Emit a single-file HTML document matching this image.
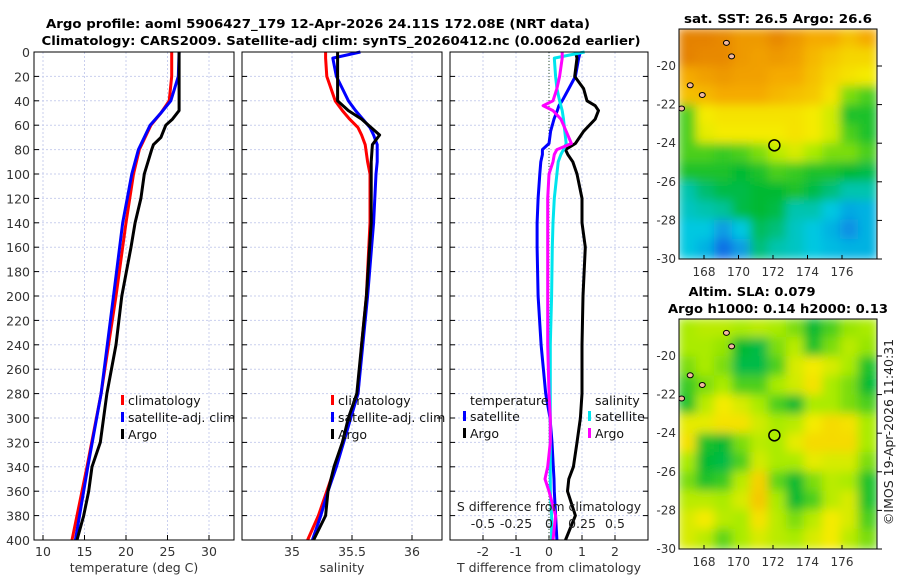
<!DOCTYPE html>
<html><head><meta charset="utf-8"><style>
body{margin:0;background:#fff;}
svg{display:block;font-family:"DejaVu Sans","Liberation Sans",sans-serif;}
</style></head><body>
<svg id="c" width="900" height="580" viewBox="0 0 900 580">
<defs>
<filter id="bl" x="-5%" y="-5%" width="110%" height="110%"><feGaussianBlur stdDeviation="5"/></filter>
<clipPath id="cm1"><rect x="679" y="29" width="198" height="230"/></clipPath>
<clipPath id="cm2"><rect x="679" y="319" width="198" height="230"/></clipPath>
</defs>
<text x="318" y="28" text-anchor="middle" font-size="12.5" font-weight="bold" textLength="544" lengthAdjust="spacingAndGlyphs">Argo profile: aoml 5906427_179 12-Apr-2026 24.11S 172.08E (NRT data)</text>
<text x="341" y="45" text-anchor="middle" font-size="12.5" font-weight="bold" textLength="599" lengthAdjust="spacingAndGlyphs">Climatology: CARS2009. Satellite-adj clim: synTS_20260412.nc (0.0062d earlier)</text>
<text x="778" y="23" text-anchor="middle" font-size="12.5" font-weight="bold" textLength="188" lengthAdjust="spacingAndGlyphs">sat. SST: 26.5 Argo: 26.6</text>
<text x="752" y="296" text-anchor="middle" font-size="12.5" font-weight="bold" textLength="127" lengthAdjust="spacingAndGlyphs">Altim. SLA: 0.079</text>
<text x="778" y="313" text-anchor="middle" font-size="12.5" font-weight="bold" textLength="220" lengthAdjust="spacingAndGlyphs">Argo h1000: 0.14 h2000: 0.13</text>
<text transform="translate(893,432) rotate(-90)" text-anchor="middle" font-size="12.5" fill="#222">©IMOS 19-Apr-2026 11:40:31</text>
<g id="plots"></g>
</svg>
<script>
// ---- data ----
const tDepth=[0,20,40,50,60,80,100,140,200,280,340,400];
const tClim=[25.5,25.5,25.2,24.2,23.0,21.6,20.9,20.0,18.8,17.0,15.3,13.5];
const tSat=[26.4,26.3,25.4,24.2,22.9,21.5,20.7,19.6,18.5,17.0,15.4,13.9];
const argoDepth=[0,20,40,48,55,60,70,76,80,100,120,140,160,200,240,280,320,340,360,380,400];
const tArgo=[26.4,26.4,26.4,26.4,25.6,24.8,24.2,23.3,23.1,22.2,21.8,21.1,20.6,19.5,18.8,17.7,16.9,15.9,15.5,14.9,14.1];
const sDepth=[0,5,20,40,48,55,62,68,76,90,100,140,200,240,280,300,320,340,360,380,400];
const sClim=[35.28,35.28,35.29,35.36,35.42,35.48,35.55,35.58,35.61,35.63,35.65,35.65,35.62,35.58,35.55,35.48,35.42,35.36,35.29,35.22,35.13];
const sSat=[35.57,35.34,35.37,35.47,35.53,35.59,35.65,35.68,35.71,35.71,35.70,35.68,35.63,35.59,35.55,35.49,35.43,35.37,35.30,35.24,35.17];
const sArgo=[35.38,35.38,35.38,35.38,35.47,35.58,35.66,35.73,35.67,35.66,35.66,35.66,35.62,35.58,35.54,35.47,35.42,35.35,35.30,35.28,35.18];
const dDepth=[0,5,20,30,40,44,48,55,65,75,80,84,90,100,120,140,160,200,240,280,300,320,340,350,360,380,400];
const dTSat=[0.95,0.9,0.8,0.6,0.4,0.3,0.25,0.15,0.05,0,-0.2,-0.2,-0.25,-0.28,-0.33,-0.36,-0.36,-0.33,-0.24,-0.1,0.03,0.09,0.13,0.15,0.16,0.2,0.24];
const dTArgo=[0.8,0.85,0.78,1.05,1.15,1.4,1.5,1.4,1.05,0.8,0.5,0.57,0.72,0.85,1.0,1.0,1.1,1.03,1.0,1.0,0.95,0.85,0.74,0.6,0.56,0.8,0.5];
const dSSat=[0.27,0.04,0.05,0.06,0.08,0.09,0.1,0.11,0.12,0.13,0.11,0.09,0.07,0.06,0.04,0.03,0.025,0.02,0.01,0.01,0.01,0.01,0.01,0.01,0.01,0.02,0.02];
const dSArgo=[0.1,0.1,0.08,0.06,0.03,-0.045,0.03,0.09,0.13,0.17,0.06,0.04,0.03,0,-0.01,-0.01,-0.01,-0.01,-0.01,0,0.01,0.01,-0.01,-0.03,0,0.05,0.03];
const depthTicks=[0,20,40,60,80,100,120,140,160,180,200,220,240,260,280,300,320,340,360,380,400];
const tTicks=[10,15,20,25,30];
const sTicks=[35,35.5,36];
const dTicks=[-2,-1,0,1,2];
const dSTicks=[-0.5,-0.25,0,0.25,0.5];
const dSTickLabels=["-0.5","-0.25","0","0.25","0.5"];
const lonTicks=[168,170,172,174,176];
const latTicks=[-20,-22,-24,-26,-28,-30];
const sstGrid=[
[.97,.97,.95,.9,.9,.95,.9,.85,.85,.8,.85],
[.97,.95,.95,.9,.88,.9,.88,.82,.78,.75,.75],
[.85,.88,.9,.88,.88,.85,.85,.8,.75,.72,.7],
[.8,.82,.85,.85,.85,.82,.8,.78,.72,.55,.5],
[.5,.7,.72,.72,.72,.72,.72,.7,.65,.45,.45],
[.5,.68,.7,.7,.7,.7,.72,.7,.65,.5,.45],
[.5,.5,.48,.5,.55,.62,.66,.6,.55,.55,.5],
[.45,.45,.45,.42,.45,.5,.48,.45,.45,.42,.4],
[.3,.36,.4,.4,.42,.42,.45,.4,.35,.3,.3],
[.28,.3,.32,.4,.42,.4,.3,.3,.25,.18,.2],
[.25,.25,.15,.25,.38,.35,.28,.25,.2,.12,.2],
[.25,.2,.05,.15,.35,.3,.28,.25,.22,.2,.2]];
const slaGrid=[
[.6,.62,.62,.6,.62,.6,.55,.42,.5,.58,.6],
[.6,.6,.58,.42,.4,.55,.62,.45,.55,.62,.58],
[.55,.6,.55,.4,.4,.5,.66,.7,.66,.6,.45],
[.48,.55,.6,.5,.5,.6,.65,.72,.6,.55,.42],
[.45,.62,.7,.66,.6,.5,.42,.6,.6,.55,.5],
[.68,.68,.72,.72,.65,.6,.62,.7,.74,.72,.6],
[.72,.45,.42,.55,.62,.6,.68,.74,.74,.74,.6],
[.6,.42,.4,.5,.65,.6,.6,.68,.66,.66,.55],
[.55,.45,.48,.62,.76,.52,.42,.55,.62,.6,.45],
[.62,.62,.6,.66,.78,.6,.42,.5,.62,.66,.45],
[.66,.7,.62,.6,.72,.62,.55,.62,.7,.66,.5],
[.66,.62,.52,.6,.66,.62,.6,.66,.7,.62,.55]];
const argoLon=172.08, argoLat=-24.11;

const NS="http://www.w3.org/2000/svg";
const root=document.getElementById('plots');
function mk(tag,at,parent){const e=document.createElementNS(NS,tag);for(const k in at)e.setAttribute(k,at[k]);(parent||root).appendChild(e);return e;}
const Y0=52,Y1=540;
const yD=d=>Y0+(d/400)*(Y1-Y0);
function lin(d0,d1,r0,r1){return v=>r0+(v-d0)/(d1-d0)*(r1-r0);}
const panels=[
 {x0:34,x1:234,fx:lin(10,30,43,209),ticks:tTicks,labels:tTicks.map(String),xl:"temperature (deg C)",name:"temperature"},
 {x0:242,x1:442,fx:lin(35,36,292,412),ticks:sTicks,labels:["35","35.5","36"],xl:"salinity",name:"salinity"},
 {x0:450,x1:648,fx:lin(-3,3,450,648),ticks:dTicks,labels:dTicks.map(String),xl:"T difference from climatology",name:"difference"}];
panels.forEach((p,pi)=>{
  const g=mk('g',{});
  
  
  depthTicks.forEach(d=>{
    const gl=mk('line',{x1:p.x0,x2:p.x1,y1:yD(d),y2:yD(d),stroke:'#c9cfee','stroke-dasharray':'2,2','stroke-width':1},g);
    
    
    mk('line',{x1:p.x0,x2:p.x0+5,y1:yD(d),y2:yD(d),stroke:'#000'},g);
    mk('line',{x1:p.x1-5,x2:p.x1,y1:yD(d),y2:yD(d),stroke:'#000'},g);
    if(pi===0){const t=mk('text',{x:p.x0-4,y:yD(d)+5,'text-anchor':'end','font-size':12.5,fill:'#333'},g);t.textContent=d;
      }
  });
  p.ticks.forEach((v,i)=>{
    const x=p.fx(v);
    const gl=mk('line',{x1:x,x2:x,y1:Y0,y2:Y1,stroke:'#c9cfee','stroke-dasharray':'2,2','stroke-width':1},g);
    
    
    mk('line',{x1:x,x2:x,y1:Y1-5,y2:Y1,stroke:'#000'},g);
    const t=mk('text',{x:x,y:556,'text-anchor':'middle','font-size':12.5,fill:'#333'},g);t.textContent=p.labels[i];
    
  });
  const xl=mk('text',{x:(p.x0+p.x1)/2,y:572,'text-anchor':'middle','font-size':12.5,fill:'#333'},g);xl.textContent=p.xl;
  
});
function line(xs,ds,fx,col,name){
  const pts=xs.map((v,i)=>fx(v).toFixed(1)+','+yD(ds[i]).toFixed(1)).join(' ');
  const e=mk('polyline',{points:pts,fill:'none',stroke:col,'stroke-width':3,'stroke-linejoin':'round'});
  
  
}
const P=panels;
const z=mk('line',{x1:P[2].fx(0),x2:P[2].fx(0),y1:Y0,y2:Y1,stroke:'#335533','stroke-dasharray':'1,2'});

line(tClim,tDepth,P[0].fx,'#ff0000','temp-climatology-line');
line(tSat,tDepth,P[0].fx,'#0000ff','temp-satellite-line');
line(tArgo,argoDepth,P[0].fx,'#000','temp-argo-line');
line(sClim,sDepth,P[1].fx,'#ff0000','sal-climatology-line');
line(sSat,sDepth,P[1].fx,'#0000ff','sal-satellite-line');
line(sArgo,sDepth,P[1].fx,'#000','sal-argo-line');
const fS=v=>P[2].fx(v*4);
line(dTSat,dDepth,P[2].fx,'#0000ff','tdiff-satellite-line');
line(dTArgo,dDepth,P[2].fx,'#000','tdiff-argo-line');
line(dSSat,dDepth,fS,'#00e5ee','sdiff-satellite-line');
line(dSArgo,dDepth,fS,'#ff00ff','sdiff-argo-line');
let st=mk('text',{x:549,y:511,'text-anchor':'middle','font-size':12.5,fill:'#222'});st.textContent='S difference from climatology';

dSTicks.forEach((v,i)=>{const t=mk('text',{x:fS(v),y:528,'text-anchor':'middle','font-size':12.5,fill:'#222'});t.textContent=dSTickLabels[i];
 });
P.forEach(p=>{const r=mk('rect',{x:p.x0,y:Y0,width:p.x1-p.x0,height:Y1-Y0,fill:'none',stroke:'#000'});});
function leg(x,y,col,txt){
  const g=mk('g',{});
  
  
  if(col) mk('rect',{x:x-7,y:y-10,width:3,height:10,fill:col},g);
  const t=mk('text',{x:x,y:y,'font-size':12.5,fill:'#111'},g);t.textContent=txt;
}
leg(128,405,'#ff0000','climatology');leg(128,422,'#0000ff','satellite-adj. clim');leg(128,439,'#000','Argo');
leg(338,405,'#ff0000','climatology');leg(338,422,'#0000ff','satellite-adj. clim');leg(338,439,'#000','Argo');
leg(470,405,null,'temperature');leg(470,421,'#0000ff','satellite');leg(470,438,'#000','Argo');
leg(595,405,null,'salinity');leg(595,421,'#00e5ee','satellite');leg(595,438,'#ff00ff','Argo');
const cstops=[[0,[20,90,230]],[0.25,[0,200,225]],[0.42,[0,185,50]],[0.6,[170,235,0]],[0.7,[245,235,0]],[0.85,[245,170,0]],[1,[225,120,0]]];
function cmap(v){for(let i=1;i<cstops.length;i++){if(v<=cstops[i][0]){const a=cstops[i-1],b=cstops[i],t=(v-a[0])/(b[0]-a[0]);return 'rgb('+a[1].map((c,k)=>Math.round(c+(b[1][k]-c)*t)).join(',')+')';}}return 'rgb(225,120,0)';}
const lonX=lin(168,176,704,842);
function drawMap(grid,top,clip,name){
  const latY=lin(-20,-30,top+37,top+230);
  const g=mk('g',{'clip-path':'url(#'+clip+')'});
  
  
  const inner=mk('g',{filter:'url(#bl)'},g);
  const rows=grid.length,cols=grid[0].length,cw=198/cols,ch=230/rows;
  grid.forEach((row,r)=>row.forEach((v,c)=>{
    mk('rect',{x:679+c*cw-1,y:top+r*ch-1,width:cw+2,height:ch+2,fill:cmap(v)},inner);
  }));
  [[169.3,-18.8],[169.6,-19.5],[167.2,-21.0],[167.9,-21.5],[166.7,-22.2]].forEach(([lo,la])=>{
    const e=mk('ellipse',{cx:lonX(lo),cy:latY(la),rx:3,ry:2.5,fill:'#f2b8a0',stroke:'#000','stroke-width':1},g);
    
  });
  const ci=mk('circle',{cx:lonX(argoLon),cy:latY(argoLat),r:5.5,fill:'none',stroke:'#000','stroke-width':1.5});
  
  const fr=mk('rect',{x:679,y:top,width:198,height:230,fill:'none',stroke:'#000'});
  
  lonTicks.forEach(lo=>{const x=lonX(lo);mk('line',{x1:x,x2:x,y1:top+230,y2:top+226,stroke:'#000'});
    const t=mk('text',{x:x,y:top+247,'text-anchor':'middle','font-size':12,fill:'#333'});t.textContent=lo;
    });
  latTicks.forEach(la=>{const y=latY(la);mk('line',{x1:877,x2:882,y1:y,y2:y,stroke:'#000'});
    const t=mk('text',{x:676,y:y+4,'text-anchor':'end','font-size':12,fill:'#333'});t.textContent=la;
    });
}
drawMap(sstGrid,29,'cm1','sst-map');
drawMap(slaGrid,319,'cm2','sla-map');
</script>
</body></html>
